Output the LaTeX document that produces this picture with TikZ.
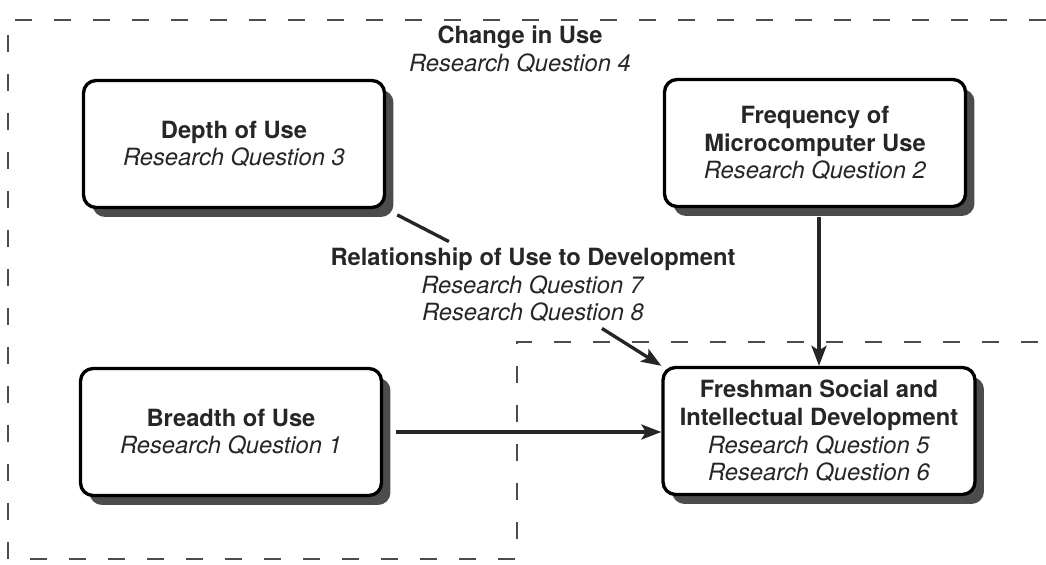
\documentclass[tikz,border=0pt]{standalone}
\usepackage{fontspec}
\setmainfont{TeX Gyre Heros}
\usetikzlibrary{arrows.meta,shadows}

\begin{document}
\begin{tikzpicture}[x=0.02cm, y=-0.02cm,
    every node/.style={font=\fontsize{13.5}{15.8}\selectfont, align=center, text=black!85},
    qbox/.style={draw, line width=1.9pt, rounded corners=0.25cm, fill=white,
        minimum width=6.02cm, minimum height=2.54cm,
        drop shadow={shadow xshift=0.18cm, shadow yshift=-0.19cm, fill=black!70, opacity=1}},
    region/.style={line width=0.6pt, black!70, dash pattern=on 0.34cm off 0.44cm},
    link/.style={line width=1.9pt, black!85},
    arr/.style={link, -{Stealth[length=0.4cm, width=0.3cm, inset=0.09cm]}}]
    %%%%% START %%%%%
    \useasboundingbox (0,0) rectangle (1046,565);

    % dashed outline of the change-in-use area
    \draw[region] (1046,20) -- (8,20) -- (8,559) -- (517,559) -- (517,342) -- (1046,342);

    \node[qbox] (depth) at (234,144) {\textbf{Depth of Use}\\\textit{Research Question 3}};
    \node[qbox] (freq) at (815,143) {\textbf{Frequency of}\\\textbf{Microcomputer Use}\\\textit{Research Question 2}};
    \node[qbox] (breadth) at (231,432) {\textbf{Breadth of Use}\\\textit{Research Question 1}};
    \node[qbox, minimum width=6.24cm] (fresh) at (819,431) {\textbf{Freshman Social and}\\\textbf{Intellectual Development}\\\textit{Research Question 5}\\\textit{Research Question 6}};

    \node (change) at (520,49) {\textbf{Change in Use}\\\textit{Research Question 4}};
    \node (rel) at (533,285) {\textbf{Relationship of Use to Development}\\\textit{Research Question 7}\\\textit{Research Question 8}};

    % connectors
    \draw[link, shorten <=0.25cm] (depth.south east) -- (rel);
    \draw[arr] (rel) -- (fresh.north west);
    \draw[arr, shorten <=0.18cm] (freq.south -| fresh.north) -- (fresh.north);
    \draw[arr, shorten <=0.26cm] (breadth.east) -- (breadth.east -| fresh.west);
    %%%%% END %%%%%
\end{tikzpicture}
\end{document}
